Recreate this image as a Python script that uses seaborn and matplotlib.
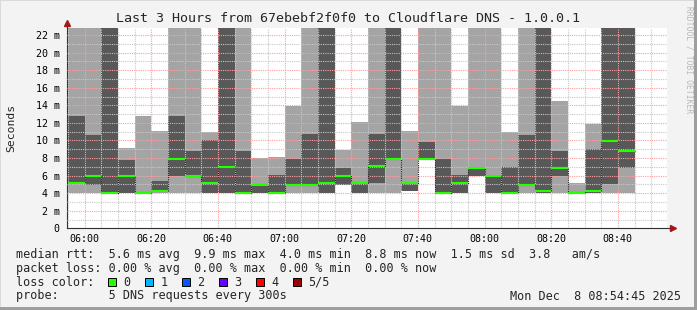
import numpy as np
import pandas as pd
import matplotlib
matplotlib.use("Agg")
import matplotlib.pyplot as plt
import matplotlib.dates as mdates
from matplotlib.patches import Rectangle
from matplotlib.lines import Line2D
import seaborn as sns

# ---------------- data ----------------
bar_starts = pd.date_range("2025-12-08 05:55", periods=34, freq="5min")
bar_end = pd.Timestamp("2025-12-08 08:45")

# sorted ping values (ms) per 5-minute step; values above 22.8 are cut off in the graph
ping1 = [4.0, 4.0, 4.0, 4.0, 4.0, 4.0, 4.0, 4.0, 4.0, 4.0, 4.0, 4.0, 4.0, 4.0, 4.0, 4.0, 4.95,
         4.0, 4.0, 4.0, 4.19, 7.87, 4.0, 4.0, 5.9, 4.0, 4.0, 4.0, 4.0, 4.0, 4.0, 4.0, 4.0, 4.0]
ping2 = [5.1, 4.95, 4.0, 4.0, 4.0, 4.2, 5.97, 5.9, 4.0, 4.0, 4.0, 4.0, 4.0, 4.95, 4.95, 4.0, 4.95,
         4.0, 5.21, 7.87, 4.19, 7.87, 4.0, 4.0, 5.9, 4.0, 4.0, 4.95, 4.0, 5.9, 4.0, 4.0, 5.02, 6.92]
median = [5.1, 5.9, 4.0, 5.9, 4.0, 4.2, 7.91, 5.9, 5.1, 6.96, 4.0, 4.95, 4.0, 4.95, 4.95, 5.1, 5.97,
          5.1, 7.04, 7.87, 5.21, 7.87, 4.0, 5.1, 6.92, 5.9, 4.0, 4.95, 4.2, 6.92, 4.0, 4.3, 9.9, 8.75]
ping4 = [12.73, 10.64, 26.0, 7.8, 4.0, 5.4, 12.81, 8.82, 10.07, 27.0, 8.82, 4.95, 6.09, 7.91, 10.76,
         25.0, 6.85, 5.1, 10.76, 26.0, 5.21, 9.88, 7.87, 6.09, 6.92, 6.09, 6.96, 10.64, 28.0, 8.75,
         4.0, 9.05, 26.0, 27.0]
ping5 = [30.0, 28.0, 32.0, 9.13, 12.73, 11.02, 29.0, 27.0, 10.95, 33.0, 26.0, 7.99, 8.14, 13.87, 29.0,
         31.0, 8.94, 12.05, 30.0, 34.0, 11.02, 27.0, 28.0, 13.87, 26.0, 29.0, 10.95, 30.0, 33.0, 14.52,
         5.17, 11.90, 32.0, 31.0]

y_ticks = [0, 2, 4, 6, 8, 10, 12, 14, 16, 18, 20, 22]
y_labels = ["0"] + [f"{v} m" for v in y_ticks[1:]]

title = "Last 3 Hours from 67ebebf2f0f0 to Cloudflare DNS - 1.0.0.1"
legend_lines = [
    "median rtt:  5.6 ms avg  9.9 ms max  4.0 ms min  8.8 ms now  1.5 ms sd  3.8   am/s",
    "packet loss: 0.00 % avg  0.00 % max  0.00 % min  0.00 % now",
    "loss color:",
    "probe:       5 DNS requests every 300s",
]
loss_labels = ["0", "1", "2", "3", "4", "5/5"]
loss_colors = ["#26ff00", "#00b8ff", "#0059ff", "#6a00ff", "#ff0000", "#a00000"]
date_text = "Mon Dec  8 08:54:45 2025"

# ---------------- style ----------------
sns.set_theme(style="white")
plt.rcParams["font.family"] = ["DejaVu Sans Mono", "DejaVu Sans"]

W, H = 697, 310
BG = "#f3f3f3"
fig = plt.figure(figsize=(W / 100, H / 100), dpi=100, facecolor=BG)

def fx(px):
    return px / W

def fy(py):
    return 1 - py / H

ax_left, ax_right, ax_top, ax_bottom = 67, 667, 28, 228.3
ax = fig.add_axes([fx(ax_left), fy(ax_bottom), fx(ax_right - ax_left), (ax_bottom - ax_top) / H])
ax.set_facecolor("white")

edges = list(bar_starts) + [bar_end]
def ext(a):
    return list(a) + [a[-1]]

# smoke
ax.fill_between(edges, ext(ping1), ext(ping5), step="post", color="#a4a4a4", lw=0, zorder=1)
ax.fill_between(edges, ext(ping2), ext(ping4), step="post", color="#585858", lw=0, zorder=1.1)

# median: black dotted step line + green segments
sns.lineplot(x=edges, y=ext(median), drawstyle="steps-post", color="#202020", lw=0.8,
             linestyle=(0, (1, 1)), estimator=None, ax=ax, zorder=3)
ax.hlines(median, bar_starts, edges[1:], colors=loss_colors[0], lw=1.5, zorder=4)

ax.set_xlim(pd.Timestamp("2025-12-08 05:54:45"), pd.Timestamp("2025-12-08 08:54:45"))
ax.set_ylim(0, 22.8)

ax.xaxis.set_major_locator(mdates.MinuteLocator(byminute=[0, 20, 40]))
ax.xaxis.set_minor_locator(mdates.MinuteLocator(byminute=list(range(0, 60, 5))))
ax.xaxis.set_major_formatter(mdates.DateFormatter("%H:%M"))
ax.set_yticks(y_ticks)
ax.set_yticklabels(y_labels)
ax.set_yticks(np.arange(0, 23, 1), minor=True)

ax.set_axisbelow(False)
ax.grid(which="minor", color="#c8c8c8", lw=0.8, linestyle=(0, (1, 1)), zorder=2)
ax.grid(which="major", color="#ffa0a0", lw=0.8, linestyle=(0, (1, 1)), zorder=2.1)

ax.tick_params(axis="both", which="major", labelsize=7.2, colors="#ff9090", labelcolor="black",
               length=2.2, width=0.8, direction="out")
ax.tick_params(axis="both", which="minor", colors="#b0b0b0", length=1.5, width=0.8, direction="out")
ax.tick_params(axis="x", which="major", pad=1.8)
ax.tick_params(axis="y", which="major", pad=3.0)

for s in ["top", "right"]:
    ax.spines[s].set_visible(False)
for s in ["left", "bottom"]:
    ax.spines[s].set_color("#303030")
    ax.spines[s].set_linewidth(0.8)

# axis extensions and arrows
ax.add_line(Line2D([0, 0], [1, 1.012], transform=ax.transAxes, color="#303030", lw=0.8, clip_on=False))
ax.add_line(Line2D([1, 1.006], [0, 0], transform=ax.transAxes, color="#303030", lw=0.8, clip_on=False))
ax.plot([0], [1.025], marker="^", ms=4, color="#a01818", transform=ax.transAxes, clip_on=False)
ax.plot([1.0095], [0], marker=">", ms=4, color="#a01818", transform=ax.transAxes, clip_on=False)

# texts
fig.text(fx(348.5), fy(18.5), title, ha="center", va="center", fontsize=9.6)
fig.text(fx(11), fy(128), "Seconds", rotation=90, ha="center", va="center", fontsize=8.2)
fig.text(fx(689), fy(60), "RRDTOOL / TOBI OETIKER", rotation=270, ha="center", va="center",
         fontsize=5.8, color="#b8b8b8")

line_y = [254.3, 268.3, 282.3, 296.0]
for txt, yy in zip(legend_lines, line_y):
    fig.text(fx(16), fy(yy), txt, ha="left", va="center", fontsize=8.5)

for i, (lab, col) in enumerate(zip(loss_labels, loss_colors)):
    x0 = 108.3 + 37 * i
    fig.patches.append(Rectangle((fx(x0), fy(285.5)), fx(8), 8 / H, transform=fig.transFigure,
                                 facecolor=col, edgecolor="black", lw=0.7))
    fig.text(fx(x0 + 15), fy(282.3), lab, ha="left", va="center", fontsize=8.5)

fig.text(fx(681), fy(296), date_text, ha="right", va="center", fontsize=8.5)

# 3D border
fig.patches.append(Rectangle((0, 0), 1, 1, transform=fig.transFigure, fill=False,
                             edgecolor="#dadada", lw=1.4))
fig.patches.append(Rectangle((fx(694), 0), fx(3), 1, transform=fig.transFigure,
                             facecolor="#9e9e9e", edgecolor="none"))
fig.patches.append(Rectangle((0, 0), 1, 3 / H, transform=fig.transFigure,
                             facecolor="#9e9e9e", edgecolor="none"))

fig.savefig("out.png", dpi=100, facecolor=BG)
